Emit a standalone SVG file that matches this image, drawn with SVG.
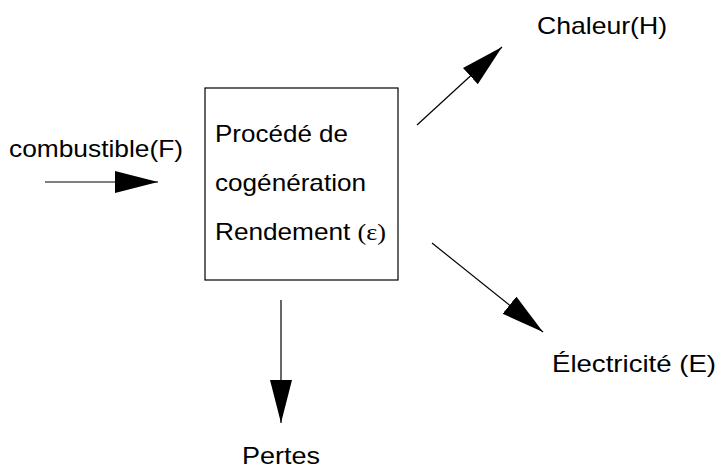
<svg xmlns="http://www.w3.org/2000/svg" width="721" height="468" viewBox="0 0 721 468">
<style>
text{font-family:"Liberation Sans",Arial,sans-serif;font-size:24px;fill:#000}
.ln{stroke:#000;stroke-width:1.2;fill:none}
.box{fill:#fff;stroke:#000;stroke-width:1.2}
</style>
<defs>
<marker id="ah" markerUnits="userSpaceOnUse" markerWidth="44" markerHeight="24" refX="43" refY="11" orient="auto">
<path d="M0,0 L43,11 L0,22 z" fill="#000"/>
</marker>
</defs>
<rect width="721" height="468" fill="#fff"/>
<g id="process">
<rect class="box" x="205" y="88" width="193" height="192"/>
<text x="215" y="142" textLength="133" lengthAdjust="spacingAndGlyphs">Procédé de</text>
<text x="215" y="191" textLength="151" lengthAdjust="spacingAndGlyphs">cogénération</text>
<text x="215" y="240" textLength="171" lengthAdjust="spacingAndGlyphs">Rendement <tspan font-family="'Liberation Serif',serif">(ε)</tspan></text>
</g>
<g id="fuel"><text x="9" y="157" textLength="174" lengthAdjust="spacingAndGlyphs">combustible(F)</text></g>
<g id="heat"><text x="537" y="34" textLength="130" lengthAdjust="spacingAndGlyphs">Chaleur(H)</text></g>
<g id="elec"><text x="552" y="372" textLength="164" lengthAdjust="spacingAndGlyphs">Électricité (E)</text></g>
<g id="losses"><text x="242" y="464" textLength="78" lengthAdjust="spacingAndGlyphs">Pertes</text></g>
<g id="connectors">
<line class="ln" x1="45" y1="182" x2="158" y2="182" marker-end="url(#ah)"/>
<line class="ln" x1="417" y1="125" x2="502" y2="47" marker-end="url(#ah)"/>
<line class="ln" x1="432" y1="243" x2="543" y2="332" marker-end="url(#ah)"/>
<line class="ln" x1="281" y1="300" x2="281" y2="423" marker-end="url(#ah)"/>
</g>
</svg>
